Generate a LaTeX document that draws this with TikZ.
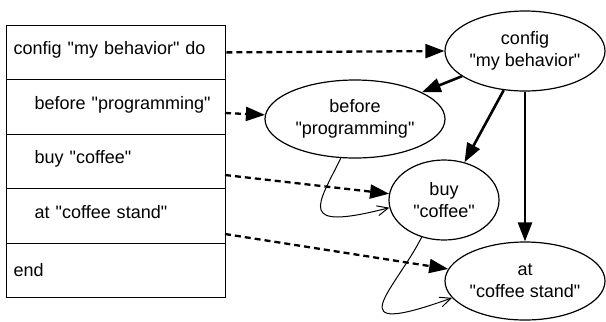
\documentclass[tikz,border=0pt]{standalone}
\usepackage{fontspec}
% plain family: no TeX ligature mapping, so " stays a straight quote
\newfontfamily\labelfont{Liberation Sans}
\usetikzlibrary{shapes.geometric,arrows.meta}

\begin{document}
\begin{tikzpicture}[x=1bp,y=-1bp,
  every node/.style={font=\labelfont\fontsize{18bp}{22bp}\selectfont},
  row/.style={draw,line width=1.3bp,minimum width=219bp,minimum height=54.5bp,
    anchor=north west,inner xsep=7bp,inner ysep=0pt,text width=205bp,align=left},
  stmt/.style={row,text height=13bp,text depth=8bp},
  state/.style={draw,ellipse,line width=1.2bp,inner sep=0pt,align=center},
  head/.style={-{Triangle[length=19bp,width=14bp]}},
  maps/.style={head,line width=2.3bp,dash pattern=on 6bp off 4bp},
  contains/.style={head,line width=2.6bp},
  next/.style={line width=1bp,-{Straight Barb[length=11bp,width=10bp]}}]
\useasboundingbox (0,0) rectangle (606,321);

% the DSL source, one statement per row
\node[stmt] (r1) at (6,24.5)  {config "my behavior" do};
\node[stmt] (r2) at (6,79)    {\hspace*{21bp}before "programming"};
\node[stmt] (r3) at (6,133.5) {\hspace*{21bp}buy "coffee"};
\node[stmt] (r4) at (6,188)   {\hspace*{21bp}at "coffee stand"};
\node[row]  (r5) at (6,242.5) {end};

% the object graph built from it
\node[state,minimum width=160bp,minimum height=80bp] (cfg)   at (525,51)  {config\\"my behavior"};
\node[state,minimum width=180bp,minimum height=78bp] (bef)   at (355,119) {before\\"programming"};
\node[state,minimum width=110bp,minimum height=80bp] (buy)   at (444,200) {buy\\"coffee"};
\node[state,minimum width=160bp,minimum height=78bp] (stand) at (525,281) {at\\"coffee stand"};

% where each statement leaves the table
\coordinate (p2) at (225,113);
\coordinate (p3) at (225,175);
\coordinate (p4) at (225,234);

\draw[maps] (r1.east) -- (cfg.west);
\draw[maps] (p2) -- (bef);
\draw[maps] (p3) -- (buy);
\draw[maps] (p4) -- (stand);

\draw[contains] (cfg) -- (bef);
\draw[contains] (cfg) -- (buy);
\draw[contains] (cfg) -- (stand);

\draw[next] (bef.250) .. controls (318,205) and (295,232) .. (buy.188);
\draw[next] (buy.239) .. controls (395,290) and (335,340) .. (stand.193);
\end{tikzpicture}
\end{document}
